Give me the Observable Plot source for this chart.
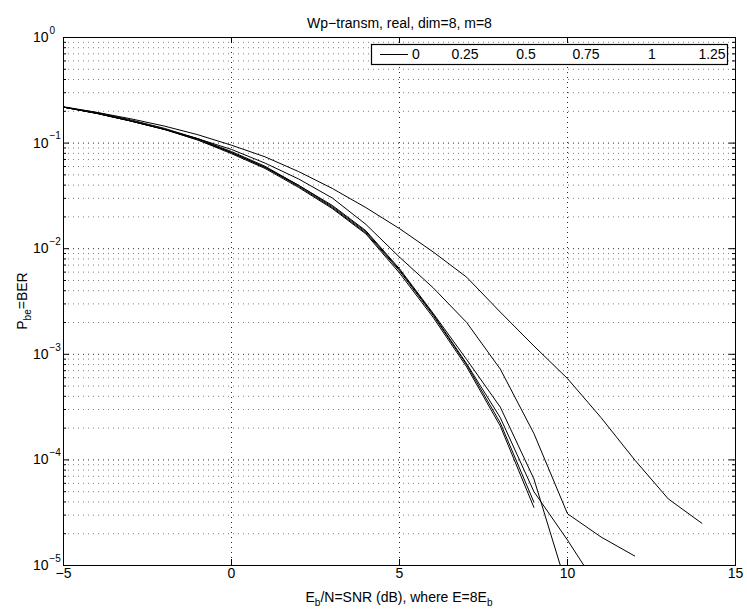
<!DOCTYPE html>
<html><head><meta charset="utf-8">
<script src="https://cdn.jsdelivr.net/npm/d3@7"></script>
<script src="https://cdn.jsdelivr.net/npm/@observablehq/plot@0.6"></script>
<style>body{margin:0;background:#fff}</style>
</head><body><div id="chart"></div>
<script>
// ---- data ----
const snr = [-5,-4,-3,-2,-1,0,1,2,3,4,5,6,7,8,9,10,11,12,13,14];
const seriesNames = ["0","0.25","0.5","0.75","1","1.25"];
const ber_0    = [0.219,0.191,0.162,0.135,0.107,0.0794,0.0575,0.0380,0.0240,0.0138,0.00589,0.00224,0.000759,0.000209,3.55e-5];
const ber_025  = [0.219,0.191,0.162,0.135,0.107,0.0813,0.0589,0.0389,0.0245,0.0141,0.00617,0.00234,0.000794,0.000224,3.98e-5];
const ber_05   = [0.219,0.191,0.162,0.135,0.110,0.0813,0.0589,0.0398,0.0251,0.0145,0.00631,0.00240,0.000813,0.000251,5.01e-5,1.74e-5,5.6e-6];
const ber_075  = [0.221,0.195,0.166,0.138,0.110,0.0832,0.0603,0.0398,0.0257,0.0148,0.00646,0.00245,0.000891,0.000316,6.61e-5,6.0e-6];
const ber_1    = [0.219,0.191,0.162,0.135,0.110,0.0871,0.0646,0.0457,0.0302,0.0170,0.00832,0.00427,0.00200,0.000724,0.000178,3.09e-5,1.86e-5,1.23e-5];
const ber_125  = [0.219,0.195,0.170,0.145,0.120,0.0955,0.0741,0.0537,0.0372,0.0245,0.0155,0.00933,0.00537,0.00251,0.00120,0.000589,0.000251,0.0001,4.27e-5,2.51e-5];

const xTicks = [-5,0,5,10,15];
const xTickLabels = ["\u22125","0","5","10","15"];
const yTicks = [1,1e-1,1e-2,1e-3,1e-4,1e-5];
const yTickExp = ["0","\u22121","\u22122","\u22123","\u22124","\u22125"];
const titleText = "Wp\u2212transm, real, dim=8, m=8";

// ---- build table ----
const allSeries = [ber_0, ber_025, ber_05, ber_075, ber_1, ber_125];
const data = allSeries.flatMap((vals, i) => vals.map((v, j) => ({snr: snr[j], ber: v, s: seriesNames[i]})));
const yMinor = yTicks.slice(1).flatMap(d => [2,3,4,5,6,7,8,9].map(k => d * k));
const yLabelData = yTicks.map((v, i) => ({v, e: yTickExp[i]}));

const W = 747, H = 613, mL = 63, mR = 12, mT = 37, mB = 48;
const fw = W - mL - mR, fh = H - mT - mB;
const FONT = "'Liberation Sans', Arial, Helvetica, sans-serif";

const chart = Plot.plot({
  width: W, height: H,
  marginLeft: mL, marginRight: mR, marginTop: mT, marginBottom: mB,
  x: {domain: [-5, 15], axis: null},
  y: {type: "log", domain: [1e-5, 1], axis: null},
  style: {fontFamily: FONT, fontSize: "14px", background: "#fff", color: "#000"},
  marks: [
    // dotted grid
    Plot.ruleY(yMinor, {stroke: "#000", strokeOpacity: 0.5, strokeDasharray: "1,4"}),
    Plot.ruleY(yTicks.slice(1, -1), {stroke: "#000", strokeOpacity: 0.85, strokeDasharray: "1,4"}),
    Plot.ruleX(xTicks.slice(1, -1), {stroke: "#000", strokeOpacity: 0.85, strokeDasharray: "1,4"}),
    // curves
    Plot.line(data, {x: "snr", y: "ber", z: "s", stroke: "#000", strokeWidth: 1, clip: true}),
    // inward ticks
    Plot.ruleY(yTicks, {stroke: "#000", insetRight: fw - 6}),
    Plot.ruleY(yTicks, {stroke: "#000", insetLeft: fw - 6}),
    Plot.ruleY(yMinor, {stroke: "#000", insetRight: fw - 3}),
    Plot.ruleY(yMinor, {stroke: "#000", insetLeft: fw - 3}),
    Plot.ruleX(xTicks, {stroke: "#000", insetTop: fh - 6}),
    Plot.ruleX(xTicks, {stroke: "#000", insetBottom: fh - 6}),
    Plot.frame({stroke: "#000"}),
    // tick labels
    Plot.text(xTicks, {x: d => d, frameAnchor: "bottom", dy: 12, text: (d, i) => xTickLabels[i], fontSize: 14}),
    Plot.text(yLabelData, {y: "v", frameAnchor: "left", dx: -15, textAnchor: "end", text: () => "10", fontSize: 14}),
    Plot.text(yLabelData, {y: "v", frameAnchor: "left", dx: -14, dy: -7, textAnchor: "start", text: "e", fontSize: 10}),
    // title
    Plot.text([titleText], {frameAnchor: "top", dy: -19, text: d => d, fontSize: 14})
  ]
});
document.getElementById("chart").appendChild(chart);

// axis labels with subscripts, and the legend
const svg = d3.select(chart);
const xl = svg.append("text").attr("x", mL + fw / 2).attr("y", 602)
  .attr("text-anchor", "middle").attr("font-family", FONT).attr("font-size", 14).attr("fill", "#000");
xl.append("tspan").text("E");
xl.append("tspan").attr("dy", 4).attr("font-size", 10).text("b");
xl.append("tspan").attr("dy", -4).text("/N=SNR (dB), where E=8E");
xl.append("tspan").attr("dy", 4).attr("font-size", 10).text("b");

const yl = svg.append("text").attr("transform", `translate(27,${mT + fh / 2}) rotate(-90)`)
  .attr("text-anchor", "middle").attr("font-family", FONT).attr("font-size", 14).attr("fill", "#000");
yl.append("tspan").text("P");
yl.append("tspan").attr("dy", 4).attr("font-size", 10).text("be");
yl.append("tspan").attr("dy", -4).text("=BER");

const legendX = [416, 465, 526, 586, 652, 712];
const lg = svg.append("g").attr("font-family", FONT).attr("font-size", 14);
lg.append("rect").attr("x", 371.5).attr("y", 44.5).attr("width", 356).attr("height", 20)
  .attr("fill", "#fff").attr("stroke", "#000").attr("stroke-width", 1.2);
lg.append("line").attr("x1", 380).attr("x2", 408).attr("y1", 54.5).attr("y2", 54.5).attr("stroke", "#000");
seriesNames.forEach((n, i) => {
  lg.append("text").attr("x", legendX[i]).attr("y", 59).attr("text-anchor", "middle").attr("fill", "#000").text(n);
});
</script>
</body></html>
